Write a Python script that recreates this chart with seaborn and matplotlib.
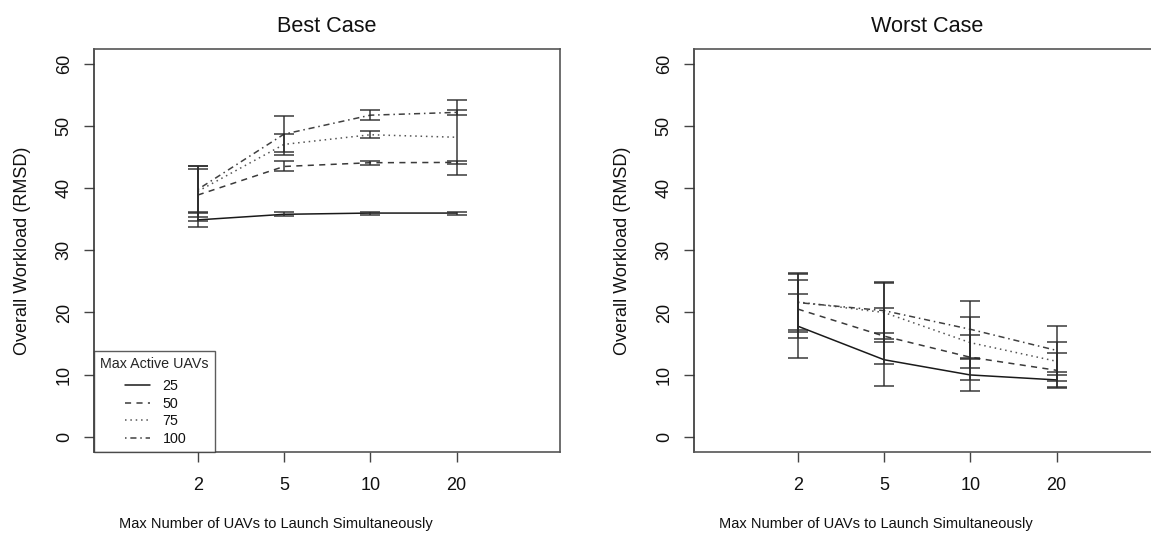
import matplotlib
matplotlib.use("Agg")
import matplotlib.pyplot as plt
import seaborn as sns
import pandas as pd
import numpy as np
from matplotlib.lines import Line2D
from matplotlib.legend_handler import HandlerBase

# ---------------- data ----------------
x_labels = ["2", "5", "10", "20"]
positions = [1, 2, 3, 4]
series_names = ["25", "50", "75", "100"]

best_25 = [34.9, 35.8, 36.0, 36.0]
best_50 = [38.9, 43.5, 44.1, 44.15]
best_75 = [39.5, 47.05, 48.6, 48.2]
best_100 = [39.8, 48.7, 51.75, 52.2]
best_25_err = [1.2, 0.3, 0.25, 0.25]
best_50_err = [4.2, 0.8, 0.3, 0.25]
best_75_err = [4.1, 1.75, 0.6, 6.05]
best_100_err = [3.8, 2.85, 0.85, 0.35]

worst_25 = [17.8, 12.4, 9.95, 9.15]
worst_50 = [20.55, 16.2, 12.8, 10.7]
worst_75 = [21.7, 20.0, 15.15, 12.15]
worst_100 = [21.6, 20.3, 17.3, 13.9]
worst_25_err = [5.2, 4.3, 2.55, 1.2]
worst_50_err = [4.65, 4.5, 3.6, 2.8]
worst_75_err = [4.5, 4.8, 4.05, 3.15]
worst_100_err = [4.75, 4.6, 4.6, 4.0]

panel_titles = ["Best Case", "Worst Case"]
x_title = "Max Number of UAVs to Launch Simultaneously"
y_title = "Overall Workload (RMSD)"
legend_title = "Max Active UAVs"
y_ticks = [0, 10, 20, 30, 40, 50, 60]

# ---------------- style ----------------
sns.set_theme(style="white")
plt.rcParams["font.family"] = ["Liberation Sans", "DejaVu Sans"]

W, H = 1151, 540
fig = plt.figure(figsize=(W / 100, H / 100), dpi=100)

def frac(x0, x1, ytop, ybot):
    return [x0 / W, 1 - ybot / H, (x1 - x0) / W, (ybot - ytop) / H]

ax1 = fig.add_axes(frac(94.3, 560, 49, 451.7))
ax2 = fig.add_axes(frac(694.3, 1160, 49, 451.7))

dash_map = {"25": "", "50": (4, 3.5), "75": (1, 2.5), "100": (1, 2.5, 4, 2.5)}
color_map = {"25": "#1a1a1a", "50": "#3a3a3a", "75": "#555555", "100": "#404040"}

def build(means, errs):
    rows = []
    for name, m, e in zip(series_names, means, errs):
        for p, mv, ev in zip(positions, m, e):
            rows.append({"pos": p, "mean": mv, "err": ev, "uav": name})
    return pd.DataFrame(rows)

df_best = build([best_25, best_50, best_75, best_100],
                [best_25_err, best_50_err, best_75_err, best_100_err])
df_worst = build([worst_25, worst_50, worst_75, worst_100],
                 [worst_25_err, worst_50_err, worst_75_err, worst_100_err])

for ax, df, title in [(ax1, df_best, panel_titles[0]), (ax2, df_worst, panel_titles[1])]:
    sns.lineplot(data=df, x="pos", y="mean", style="uav", hue="uav",
                 palette=color_map, dashes=dash_map, style_order=series_names,
                 hue_order=series_names, linewidth=1.1, legend=False, ax=ax,
                 errorbar=None)
    for name in series_names:
        sub = df[df["uav"] == name]
        ax.errorbar(sub["pos"], sub["mean"], yerr=sub["err"], fmt="none",
                    ecolor="#2a2a2a", elinewidth=1.2, capsize=7.5,
                    capthick=1.2, alpha=0.85, zorder=3)
    ax.set_xlim(-0.2, 5.2)
    ax.set_ylim(-2.4, 62.4)
    ax.set_xticks(positions)
    ax.set_xticklabels(x_labels)
    ax.set_yticks(y_ticks)
    ax.set_yticklabels([str(t) for t in y_ticks], rotation=90, va="center")
    ax.tick_params(axis="both", which="both", direction="out", length=7.5,
                   width=1.0, color="#444444", labelsize=13,
                   labelcolor="#111111")
    ax.tick_params(axis="x", pad=11)
    ax.tick_params(axis="y", pad=8)
    ax.xaxis.set_ticks_position("bottom")
    ax.yaxis.set_ticks_position("left")
    for side, sp in ax.spines.items():
        sp.set_visible(True)
        sp.set_color("#555555")
        sp.set_linewidth(1.2)
    ax.spines["left"].set_color("#333333")
    ax.set_xlabel(x_title, fontsize=10.5, labelpad=16, color="#111111")
    ax.xaxis.label.set_x(0.39)
    ax.set_ylabel(y_title, fontsize=13, labelpad=18, color="#111111")
    ax.set_title(title, fontsize=15.6, pad=12.5, color="#111111")
    ax.grid(False)
    ax.set_facecolor("white")


class RightLineHandler(HandlerBase):
    def create_artists(self, legend, orig_handle, xdescent, ydescent,
                       width, height, fontsize, trans):
        x0 = -xdescent + width * 0.5
        x1 = -xdescent + width
        y = -ydescent + height / 2
        ln = Line2D([x0, x1], [y, y])
        ln.update_from(orig_handle)
        ln.set_transform(trans)
        return [ln]


handles = []
for n in series_names:
    h = Line2D([0], [0], color=color_map[n], lw=1.1)
    if dash_map[n]:
        h.set_dashes(dash_map[n])
    handles.append(h)

leg = ax1.legend(handles, series_names, title=legend_title, loc="lower left",
                 bbox_to_anchor=(0, 0), borderaxespad=0, frameon=True,
                 fancybox=False, fontsize=10.3, title_fontsize=10.3,
                 handlelength=3.5, handleheight=1.24, handletextpad=0.85,
                 labelspacing=0.15, borderpad=0.42, alignment="left",
                 handler_map={Line2D: RightLineHandler()})
try:
    leg._legend_box.sep = 5
except Exception:
    pass
leg.get_frame().set_edgecolor("#333333")
leg.get_frame().set_linewidth(1.0)
for t in leg.get_texts():
    t.set_color("#111111")

fig.savefig("out.png", dpi=100, facecolor="white")
